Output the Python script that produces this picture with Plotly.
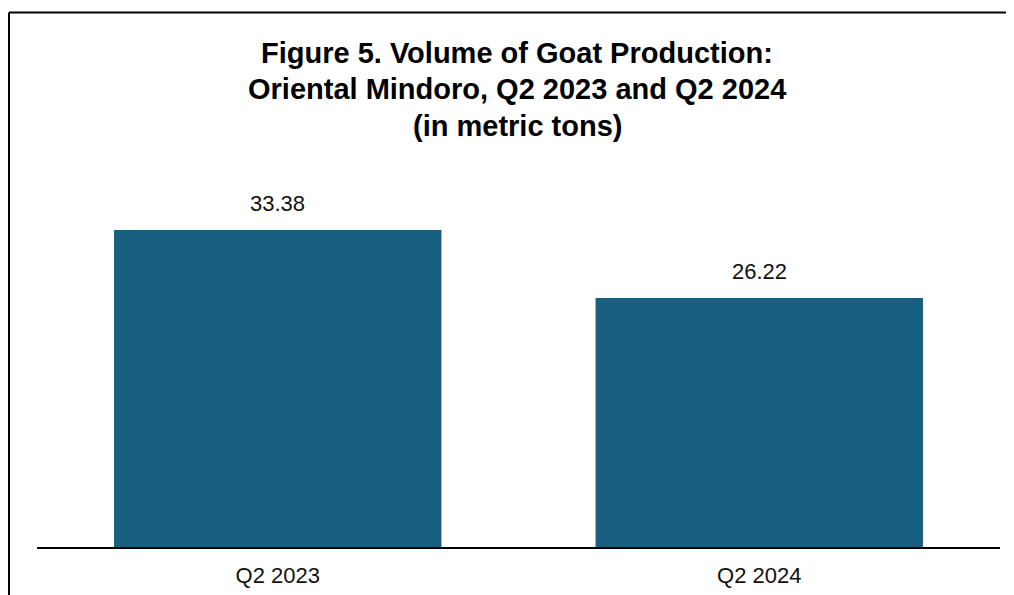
import plotly.graph_objects as go

categories = ["Q2 2023", "Q2 2024"]
values = [33.38, 26.22]
value_labels = ["33.38", "26.22"]
title_lines = ["Figure 5. Volume of Goat Production:",
               "Oriental Mindoro, Q2 2023 and Q2 2024",
               "(in metric tons)"]

BAR_COLOR = "#186081"
FONT = "Liberation Sans, Arial, sans-serif"

# page body has an 8px margin; figure is sized/positioned to compensate
OFF = 8
W, H = 1014 - OFF, 595 - OFF
L, R, T, B = 37 - OFF, 14, 167 - OFF, 48

fig = go.Figure()
fig.add_trace(go.Bar(
    x=categories, y=values,
    marker=dict(color=BAR_COLOR, line=dict(width=0)),
    hoverinfo="skip",
))

for c, v, t in zip(categories, values, value_labels):
    fig.add_annotation(x=c, y=v, text=t, showarrow=False,
                       yanchor="bottom", yshift=12,
                       font=dict(family=FONT, size=22, color="#111111"))

pw, ph = W - L - R, H - T - B

def px_to_paper_x(px):
    return (px - OFF - L) / pw

def px_to_paper_y(py):
    return (H - B - (py - OFF)) / ph

# title lines placed individually to control line spacing
for i, line in enumerate(title_lines):
    fig.add_annotation(x=px_to_paper_x(517), y=px_to_paper_y(52.5 + 36.5 * i),
                       xref="paper", yref="paper", xanchor="center", yanchor="middle",
                       text=f"<b>{line}</b>", showarrow=False,
                       font=dict(family=FONT, size=29, color="black"))

# frame (left and top border of outer box)
fig.add_shape(type="line", xref="paper", yref="paper",
              x0=px_to_paper_x(9), x1=px_to_paper_x(1030),
              y0=px_to_paper_y(12.5), y1=px_to_paper_y(12.5),
              line=dict(color="black", width=2))
fig.add_shape(type="line", xref="paper", yref="paper",
              x0=px_to_paper_x(9), x1=px_to_paper_x(9),
              y0=px_to_paper_y(12.5), y1=px_to_paper_y(620),
              line=dict(color="black", width=2))

fig.update_layout(
    width=W, height=H,
    margin=dict(l=L, r=R, t=T, b=B),
    paper_bgcolor="white", plot_bgcolor="white",
    bargap=0.32,
    showlegend=False,
    font=dict(family=FONT),
)
fig.update_xaxes(showline=True, linecolor="black", linewidth=2,
                 ticks="", ticklabelstandoff=8, automargin=False,
                 tickfont=dict(family=FONT, size=22, color="#111111"),
                 showgrid=False)
fig.update_yaxes(range=[0, 40], visible=False, showgrid=False, automargin=False)

fig.write_html("out.html")
